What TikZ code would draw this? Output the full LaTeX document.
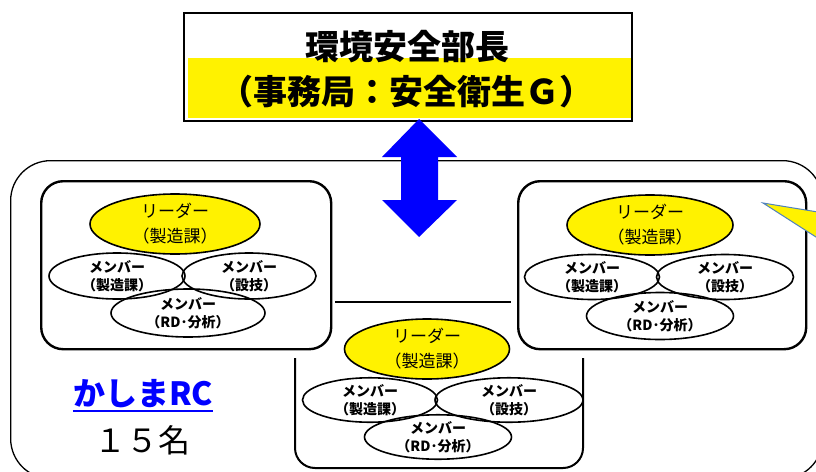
\documentclass[tikz,border=0pt]{standalone}
\usepackage{fontspec}
\newfontfamily\jp{Noto Sans CJK JP}
\usetikzlibrary{shapes.geometric}
\definecolor{callblue}{RGB}{79,129,189}
\begin{document}
\begin{tikzpicture}[x=1pt,y=-1pt,
  grp/.style={draw, line width=2.4pt, rounded corners=22pt, fill=white, inner sep=0, anchor=north west},
  leader/.style={ellipse, draw, line width=1.6pt, fill=yellow, inner sep=0, align=center,
    font=\jp\fontsize{17}{25}\selectfont},
  member/.style={ellipse, draw, line width=1.6pt, inner sep=0, align=center,
    font=\jp\bfseries\fontsize{14}{18}\selectfont},
  title/.style={inner sep=0, font=\jp\bfseries\fontsize{34}{34}\selectfont}]
\useasboundingbox (0,0) rectangle (816,471);
\clip (0,0) rectangle (816,471);

% outer group
\node[draw, line width=1.3pt, rounded corners=40pt, minimum width=812pt, minimum height=318pt,
  anchor=north west, inner sep=0] (outer) at (10,160) {};

% middle (open) box
\coordinate (mtl) at (335,302);
\coordinate (mtr) at (511,302);
\draw[line width=2pt] (mtl) -- (mtr);
\draw[line width=2pt, rounded corners=20pt] (295,358) -- (295,468) -- (583,468) -- (583,358);

% left and right boxes
\node[grp, minimum width=290pt, minimum height=168pt] (lbox) at (40,180) {};
\node[grp, minimum width=288pt, minimum height=168pt] (rbox) at (517,180) {};

% top box
\node[fill=yellow, minimum width=443pt, minimum height=60pt, anchor=north west, inner sep=0] (band) at (188,58) {};
\node[draw, line width=1.5pt, minimum width=448pt, minimum height=108pt, anchor=north west, inner sep=0] (top) at (183,12) {};
\node[title] (t1) at (407,47) {環境安全部長};
\node[title] (t2) at (406,92) {（事務局：安全衛生Ｇ）};

% double arrow
\fill[blue] (419,119) -- (457,157) -- (438,157) -- (438,200) -- (457,200) -- (419,237)
  -- (382,200) -- (401,200) -- (401,157) -- (382,157) -- cycle;

% left group
\node[member, minimum width=136pt, minimum height=46pt] (lml) at (117,276) {メンバー\\（製造課）};
\node[member, minimum width=134pt, minimum height=46pt] (lmr) at (249,276) {メンバー\\（設技）};
\node[member, minimum width=154pt, minimum height=48pt] (lmb) at (188,313) {メンバー\\（RD･分析）};
\node[leader, minimum width=170pt, minimum height=60pt] (lld) at (175,224) {リーダー\\（製造課）};

% right group
\node[member, minimum width=135pt, minimum height=45pt] (rml) at (592,277) {メンバー\\（製造課）};
\node[member, minimum width=137pt, minimum height=45pt] (rmr) at (725,277) {メンバー\\（設技）};
\node[member, minimum width=147pt, minimum height=47pt] (rmb) at (660,316) {メンバー\\（RD･分析）};
\node[leader, minimum width=166pt, minimum height=60pt] (rld) at (650,225) {リーダー\\（製造課）};

% middle group
\node[member, minimum width=135pt, minimum height=44pt] (mml) at (370,400) {メンバー\\（製造課）};
\node[member, minimum width=148pt, minimum height=44pt] (mmr) at (509,400) {メンバー\\（設技）};
\node[member, minimum width=147pt, minimum height=40pt] (mmb) at (438,437) {メンバー\\（RD･分析）};
\node[leader, minimum width=165pt, minimum height=60pt] (mld) at (427,349) {リーダー\\（製造課）};

% callout
\filldraw[fill=yellow, draw=callblue, line width=1pt] (763,203) -- (830,214) -- (830,246) -- cycle;

% site label
\node[inner sep=0, text=blue, font=\jp\bfseries\fontsize{32}{32}\selectfont] (rc) at (143,394) {かしまRC};
\draw[blue, line width=2pt] ([yshift=-5pt]rc.base west) -- ([yshift=-5pt]rc.base east);
\node[inner sep=0, font=\jp\fontsize{32}{32}\selectfont] (cnt) at (142,440) {１５名};
\end{tikzpicture}
\end{document}
